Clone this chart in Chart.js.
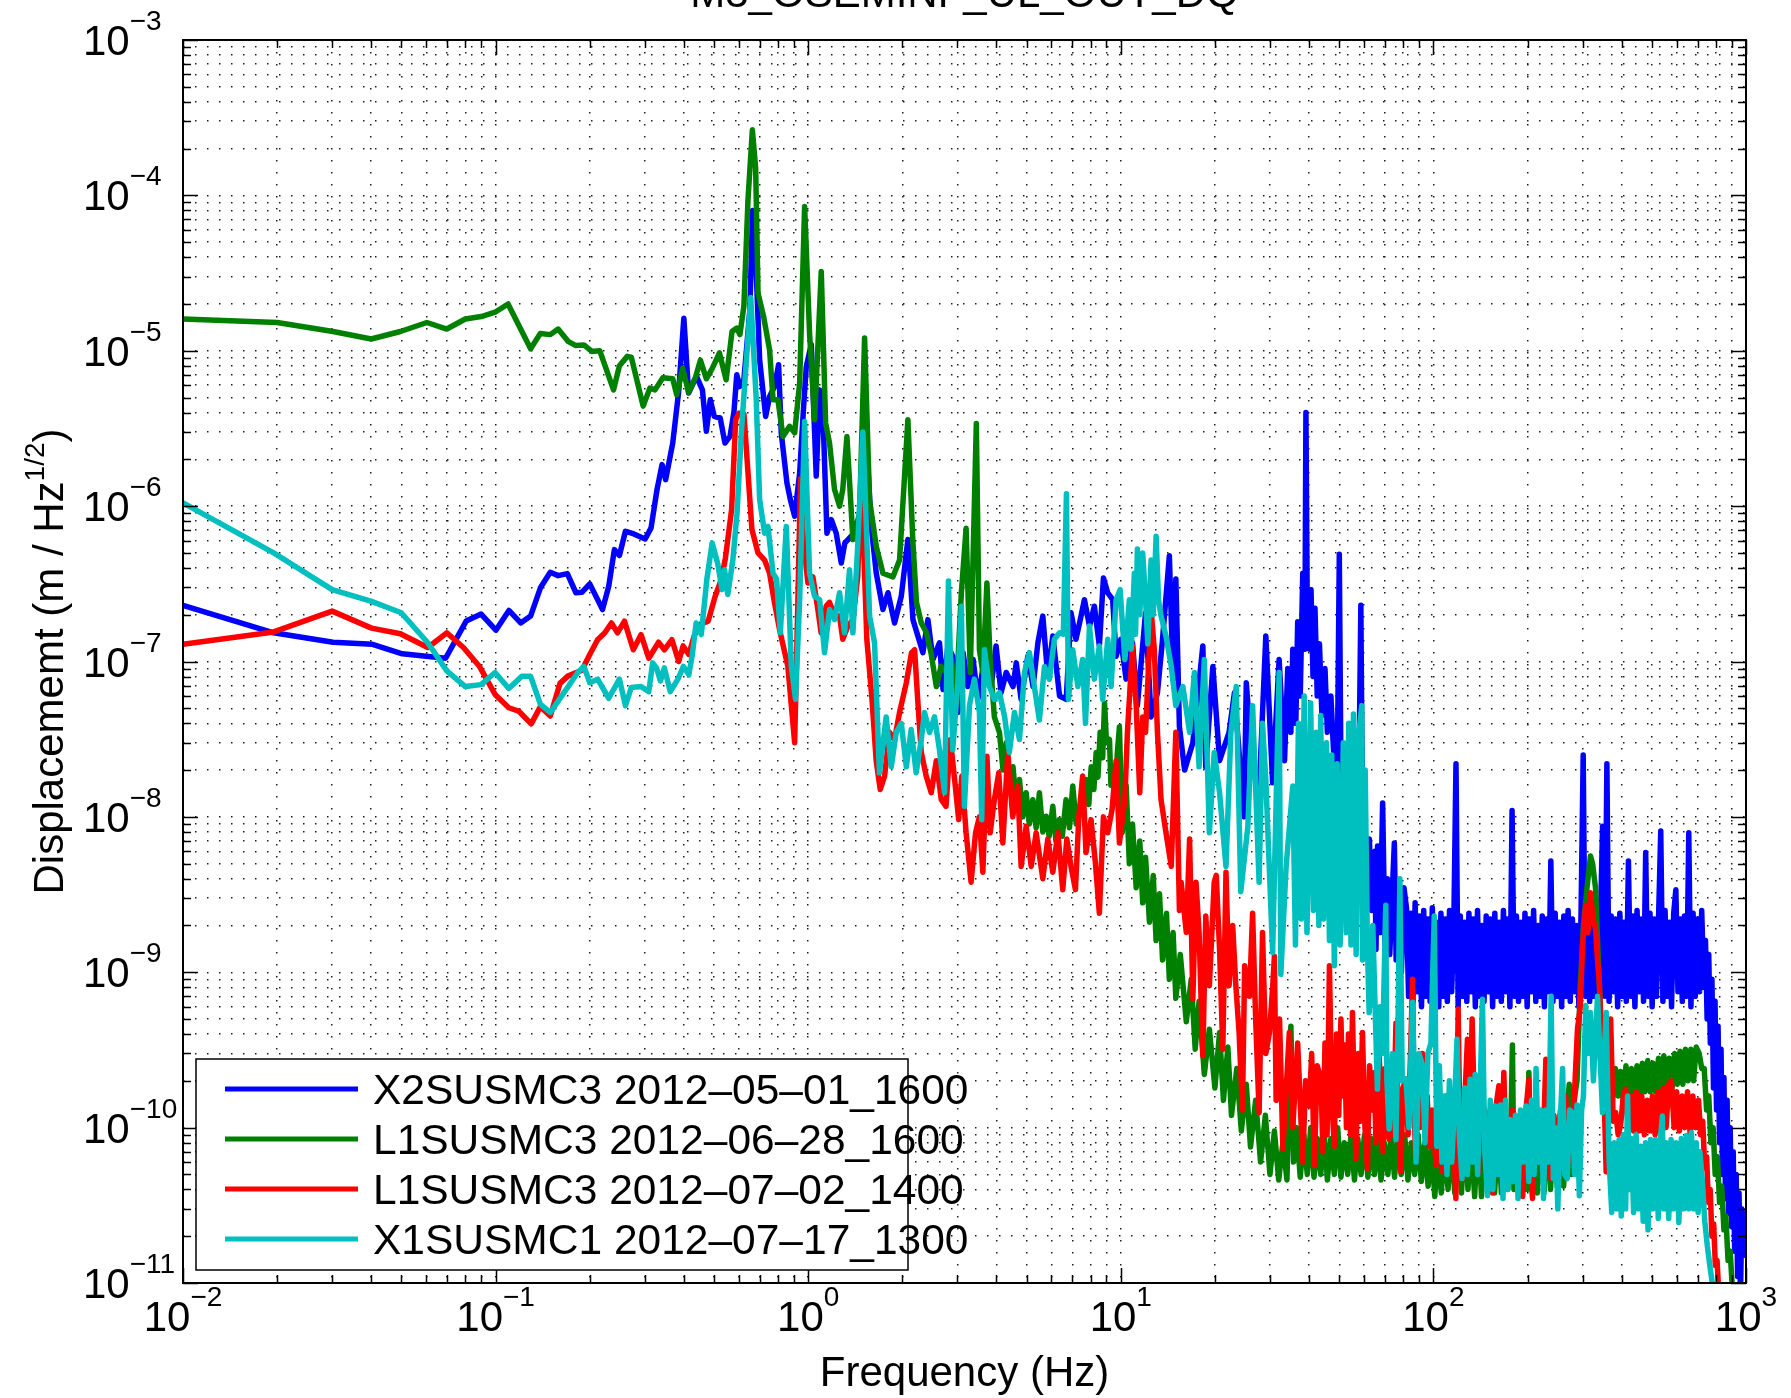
<!DOCTYPE html>
<html>
<head>
<meta charset="utf-8">
<title>M3_OSEMINF_UL_OUT_DQ</title>
<script src="https://cdn.jsdelivr.net/npm/chart.js@4.4.1/dist/chart.umd.min.js"></script>
<style>
  html, body { margin: 0; padding: 0; background: #fff; overflow: hidden; }
  canvas { display: block; }
</style>
</head>
<body>
<canvas id="psdChart" width="1791" height="1398"></canvas>
<script>
const FONT = "'Liberation Sans', Arial, Helvetica, sans-serif";

const chartTitle = 'M3_OSEMINF_UL_OUT_DQ';
const xTitle = 'Frequency (Hz)';
const yTitleMain = 'Displacememt (m / Hz';
const yTitleSup = '1/2';
const yTitleEnd = ')';

const seriesNames = [
    'X2SUSMC3 2012–05–01_1600',
    'L1SUSMC3 2012–06–28_1600',
    'L1SUSMC3 2012–07–02_1400',
    'X1SUSMC1 2012–07–17_1300'
];
const seriesColors = ['#0000ff', '#008000', '#ff0000', '#00bfbf'];

const xExponents = [-2, -1, 0, 1, 2, 3];
const yExponents = [-11, -10, -9, -8, -7, -6, -5, -4, -3];

// [frequency (Hz), displacement (m/rtHz)]
const x2susmc3 = [
    [0.01,2.3e-7],[0.0195,1.53e-7],[0.0302,1.33e-7],[0.0404,1.29e-7],[0.0503,1.12e-7],[0.0692,1.05e-7],
    [0.0805,1.82e-7],[0.0899,2.02e-7],[0.1002,1.59e-7],[0.1103,2.13e-7],[0.1203,1.77e-7],[0.1294,1.96e-7],
    [0.1391,2.98e-7],[0.1496,3.75e-7],[0.1585,3.57e-7],[0.1696,3.68e-7],[0.1807,2.77e-7],[0.1888,2.79e-7],
    [0.2001,3.16e-7],[0.2198,2.16e-7],[0.2301,3.05e-7],[0.2399,5.25e-7],[0.2489,4.81e-7],[0.2602,6.89e-7],
    [0.2757,6.65e-7],[0.3009,6.15e-7],[0.3143,7.24e-7],[0.3284,1.28e-6],[0.3409,1.85e-6],[0.3499,1.48e-6],
    [0.3687,2.55e-6],[0.3852,5.47e-6],[0.4001,1.62e-5],[0.4143,5.35e-6],[0.4391,6.84e-6],[0.4587,5.6e-6],
    [0.4722,3.03e-6],[0.486,4.84e-6],[0.5006,3.78e-6],[0.5229,3.69e-6],[0.5416,2.55e-6],[0.5623,2.81e-6],
    [0.579,4.07e-6],[0.5908,7.0e-6],[0.6047,5.9e-6],[0.6226,6.5e-6],[0.6504,1.8e-5],[0.664,8.0e-5],
    [0.679,4.0e-5],[0.6993,8.75e-6],[0.731,3.78e-6],[0.7525,5.08e-6],[0.781,5.9e-6],[0.804,8.13e-6],
    [0.82,2.95e-6],[0.855,1.41e-6],[0.877,1.1e-6],[0.905,8.6e-7],[0.939,1.63e-6],[0.967,4.38e-6],
    [0.986,7.9e-6],[1.023,1.1e-5],[1.061,1.56e-6],[1.088,5.6e-6],[1.12,2.95e-6],[1.148,6.7e-7],
    [1.185,8.2e-7],[1.229,6.7e-7],[1.276,4.3e-7],[1.31,5.8e-7],[1.373,6.4e-7],[1.425,7.1e-7],
    [1.467,5.5e-7],[1.515,4.8e-6],[1.552,1.8e-6],[1.591,7.4e-7],[1.651,3.7e-7],[1.734,2.16e-7],
    [1.8,2.77e-7],[1.889,1.77e-7],[1.985,2.63e-7],[2.084,6.1e-7],[2.163,1.86e-7],[2.328,1.14e-7],
    [2.415,1.86e-7],[2.506,1.03e-7],[2.63,1.32e-7],[2.7,6.6e-8],[2.8,1.26e-7],[2.9,1.08e-7],
    [3.01,4.7e-8],[3.13,1.14e-7],[3.24,6.9e-8],[3.37,1.03e-7],[3.49,5.7e-8],[3.66,1.03e-7],
    [3.85,6.9e-8],[3.99,1.26e-7],[4.14,6.3e-8],[4.3,8.5e-8],[4.52,6.9e-8],[4.63,9.8e-8],
    [4.8,5.7e-8],[5.04,1.08e-7],[5.24,6.9e-8],[5.43,1.32e-7],[5.63,1.96e-7],[5.84,8.0e-8],
    [6.06,1.46e-7],[6.37,6.0e-8],[6.69,5.7e-8],[6.93,2.06e-7],[7.19,1.39e-7],[7.46,1.96e-7],
    [7.65,2.5e-7],[7.94,1.69e-7],[8.23,2.27e-7],[8.54,1.26e-7],[8.8,3.45e-7],[9.08,2.77e-7],
    [9.42,2.5e-7],[9.66,1.08e-7],[10.0,1.39e-7],[10.4,7.7e-8],[10.9,1.32e-7],[11.3,5.2e-8],
    [12.0,2.06e-7],[12.5,4.4e-8],[13.1,6.3e-8],[13.6,1.39e-7],[14.3,4.8e-7],[14.7,7.7e-8],
    [15.0,3.4e-7],[15.4,3.8e-8],[16.0,2.0e-8],[17.0,3.0e-8],[18.3,1.26e-7],[18.7,2.1e-8],
    [19.7,9.3e-8],[20.7,2.3e-8],[22.2,3.5e-8],[23.1,6.3e-8],[24.8,1.0e-8],[25.2,7.3e-8],
    [26.4,2.1e-8],[27.7,1.43e-8],[29.1,1.46e-7],[30.6,1.66e-8],[32.1,1.03e-7],[33.4,2.3e-8],
    [34.2,9.0e-8],[35.0,3.5e-8],[35.5,1.2e-7],[36.3,4.0e-8],[36.8,1.8e-7],[37.5,6.0e-8],
    [38.2,3.7e-7],[38.8,1.2e-7],[39.1,4.0e-6],[39.5,2.0e-7],[40.1,1.2e-7],[40.6,2.9e-7],
    [41.2,8.0e-8],[41.8,2.2e-7],[42.5,6.0e-8],[43.2,1.3e-7],[44.0,4.5e-8],[45.0,9.0e-8],
    [45.8,3.5e-8],[47.0,6.0e-8],[48.0,2.5e-8],[49.0,5.9e-9],[50.0,4.9e-7],[50.6,2.0e-8],
    [51.2,2.85e-8],[52.0,8.0e-9],[53.0,2.7e-8],[54.5,6.0e-9],[56.5,3.0e-8],[57.5,8.0e-9],
    [58.6,2.3e-7],[59.5,4.0e-9],[60.1,1.06e-8],[61.0,3.0e-9],[62.4,7.2e-9],[63.5,2.5e-9],
    [65.0,6.0e-9],[65.5,1.4e-9],[66.3,6.5e-9],[67.5,1.8e-9],[68.8,1.23e-8],[70.0,1.5e-9],
    [71.3,4.0e-9],[72.5,1.3e-9],[75.0,6.8e-9],[76.0,1.2e-9],[77.8,3.3e-9],[79.0,1.0e-9],
    [80.5,3.5e-9],[82,2.6e-9],[83.3,7.0e-10],[84.6,2.4e-9],[86,6.5e-10],[87.4,2.8e-9],[88.8,7.5e-10],
    [90.2,2.3e-9],[91.6,6.0e-10],[93.1,2.5e-9],[94.6,7.0e-10],[96.1,2.2e-9],[97.6,6.5e-10],[99.2,2.6e-9],
    [100.8,7.5e-10],[102.4,2.1e-9],[104,6.0e-10],[105.7,2.4e-9],[107.4,7.0e-10],[109.1,2.2e-9],
    [110.8,6.5e-10],[112.6,2.5e-9],[114.4,7.5e-10],[116.2,2.0e-9],[118.1,2.2e-8],[120,6.0e-10],
    [121.9,2.3e-9],[123.9,7.0e-10],[125.9,2.1e-9],[127.9,6.5e-10],[129.9,2.4e-9],[132,7.5e-10],
    [134.1,2.2e-9],[136.2,6.0e-10],[138.4,2.5e-9],[140.6,7.0e-10],[142.9,2.0e-9],[145.2,6.5e-10],
    [147.5,2.3e-9],[149.9,7.5e-10],[152.3,2.2e-9],[154.7,6.0e-10],[157.2,2.4e-9],[159.7,7.0e-10],
    [162.3,2.1e-9],[164.9,6.5e-10],[167.5,2.5e-9],[170.2,7.5e-10],[172.9,2.2e-9],[175.7,6.0e-10],
    [178.5,1.1e-8],[181.4,7.0e-10],[184.3,2.3e-9],[187.2,6.5e-10],[190.2,2.1e-9],[193.2,7.0e-10],
    [196.3,2.4e-9],[199.5,6.0e-10],[202.7,2.2e-9],[205.9,7.5e-10],[209.2,2.5e-9],[212.6,6.5e-10],
    [216,2.0e-9],[219.4,7.0e-10],[222.9,2.3e-9],[226.5,6.0e-10],[230.1,2.2e-9],[233.8,7.5e-10],
    [237.5,5.2e-9],[241.3,6.5e-10],[245.2,2.4e-9],[249.1,7.0e-10],[253.1,2.1e-9],[257.2,6.0e-10],
    [261.3,2.3e-9],[265.5,7.0e-10],[269.7,2.5e-9],[274,6.5e-10],[278.4,2.2e-9],[282.9,7.5e-10],
    [287.4,2.0e-9],[292,6.0e-10],[296.7,2.4e-9],[301.4,2.5e-8],[306.2,7.0e-10],[311.1,2.3e-9],
    [316.1,6.5e-10],[321.2,2.2e-9],[326.3,7.0e-10],[331.5,2.5e-9],[336.8,6.0e-10],[342.2,2.1e-9],
    [347.7,8.7e-9],[353.3,7.0e-10],[358.9,2.2e-8],[364.7,6.5e-10],[370.5,2.3e-9],[376.4,7.5e-10],
    [382.4,2.2e-9],[388.5,6.0e-10],[394.8,2.4e-9],[401.1,7.0e-10],[407.5,2.1e-9],[414,6.5e-10],
    [420.6,5.2e-9],[427.4,7.0e-10],[434.2,2.3e-9],[441.2,6.0e-10],[448.2,2.5e-9],[455.4,7.5e-10],
    [462.7,2.2e-9],[470.1,6.5e-10],[477.6,5.9e-9],[485.2,7.0e-10],[493,2.4e-9],[500.9,6.0e-10],
    [508.9,2.2e-9],[517,7.0e-10],[525.3,2.3e-9],[533.7,8.1e-9],[542.2,6.5e-10],[550.9,2.5e-9],
    [559.7,7.0e-10],[568.7,2.1e-9],[577.8,6.0e-10],[587,2.4e-9],[596.4,3.4e-9],[605.9,7.5e-10],
    [615.6,2.2e-9],[625.5,6.5e-10],[635.5,2.3e-9],[645.7,7.0e-10],[656,7.9e-9],[666.5,6.0e-10],
    [677.2,2.4e-9],[688,7.0e-10],[699,2.2e-9],[710.2,7.5e-10],[721.6,2.5e-9],[733,8.0e-10],
    [742,1.6e-9],[751,5.0e-10],[760,1.3e-9],[769,3.5e-10],[778,9.0e-10],[787,1.8e-10],
    [796,6.5e-10],[805,1.3e-10],[814,4.5e-10],[823,8.0e-11],[832,3.2e-10],[841,5.0e-11],
    [850,2.1e-10],[860,3.5e-11],[870,1.5e-10],[880,2.8e-11],[890,1.0e-10],[900,2.3e-11],
    [910,7.0e-11],[920,1.6e-11],[930,5.0e-11],[940,1.1e-11],[950,3.8e-11],[960,8.0e-12],
    [970,3.0e-11],[985,2.2e-11],[1000,1.5e-11]
];

const l1susmc3Jun = [
    [0.01,1.6e-5],[0.02,1.52e-5],[0.0302,1.33e-5],[0.04,1.19e-5],[0.0496,1.33e-5],[0.0603,1.52e-5],
    [0.0698,1.38e-5],[0.08,1.6e-5],[0.09,1.66e-5],[0.0996,1.77e-5],[0.1096,2.0e-5],[0.1294,1.03e-5],
    [0.139,1.29e-5],[0.1496,1.27e-5],[0.1585,1.38e-5],[0.1705,1.15e-5],[0.1807,1.08e-5],[0.1916,1.09e-5],
    [0.2032,9.9e-6],[0.2154,1.0e-5],[0.2384,5.6e-6],[0.2489,8.0e-6],[0.2638,9.2e-6],[0.2717,9.1e-6],
    [0.2965,4.4e-6],[0.3115,5.75e-6],[0.3236,5.6e-6],[0.3428,6.7e-6],[0.3687,6.6e-6],[0.3797,5.2e-6],
    [0.3966,7.7e-6],[0.4143,5.4e-6],[0.4365,6.8e-6],[0.452,8.7e-6],[0.4722,6.6e-6],[0.4934,7.7e-6],
    [0.52,9.7e-6],[0.5463,6.5e-6],[0.5706,1.33e-5],[0.5909,1.4e-5],[0.6047,1.27e-5],[0.6226,1.93e-5],
    [0.6418,9.4e-5],[0.6628,2.64e-4],[0.679,1.5e-4],[0.691,2.35e-5],[0.72,1.66e-5],[0.7525,1.01e-5],
    [0.772,4.84e-6],[0.8,4.84e-6],[0.8304,2.81e-6],[0.872,3.26e-6],[0.905,2.96e-6],[0.939,6.2e-6],
    [0.974,8.47e-5],[1.01,1.3e-5],[1.048,3.6e-6],[1.101,3.24e-5],[1.137,3.43e-6],[1.17,2.55e-6],
    [1.214,1.28e-6],[1.26,1.0e-6],[1.29,1.28e-6],[1.33,2.81e-6],[1.39,6.1e-7],[1.46,9.0e-7],
    [1.515,1.21e-5],[1.571,1.1e-6],[1.651,5.5e-7],[1.734,3.7e-7],[1.866,3.5e-7],[1.96,4.5e-7],
    [2.084,3.6e-6],[2.16,6.1e-7],[2.22,2.4e-7],[2.3,1.77e-7],[2.39,1.53e-7],[2.47,1.14e-7],
    [2.57,6.9e-8],[2.66,9.3e-8],[2.76,8.5e-8],[2.87,1.03e-7],[2.97,5.7e-8],[3.09,2.77e-7],
    [3.2,7.2e-7],[3.3,8.5e-8],[3.45,3.4e-6],[3.53,1.19e-7],[3.62,8.5e-8],[3.73,3.2e-7],
    [3.82,1.03e-7],[3.94,4.4e-8],[4.09,3.5e-8],[4.2,2.0e-8],[4.3,3.0e-8],[4.4,1.6e-8],[4.52,2.1e-8],
    [4.63,1.2e-8],[4.74,1.74e-8],[4.86,1.0e-8],[4.98,1.43e-8],[5.1,9.0e-9],[5.23,1.29e-8],[5.36,8.5e-9],
    [5.49,1.43e-8],[5.63,8.0e-9],[5.77,1.01e-8],[5.9,7.5e-9],[6.06,1.17e-8],[6.2,7.0e-9],[6.36,9.6e-9],
    [6.5,7.5e-9],[6.68,1.29e-8],[6.85,8.5e-9],[7.02,1.58e-8],[7.2,9.0e-9],[7.37,1.17e-8],[7.55,1.05e-8],
    [7.74,1.74e-8],[7.9,1.2e-8],[8.04,2.1e-8],[8.2,1.5e-8],[8.34,2.6e-8],[8.45,1.8e-8],[8.59,3.5e-8],
    [8.75,2.4e-8],[8.87,5.4e-8],[9.0,3.0e-8],[9.2,3.15e-8],[9.3,1.6e-8],[9.42,2.1e-8],[9.6,1.3e-8],
    [9.75,2.6e-8],[9.9,3.8e-8],[10.1,7.9e-9],[10.4,1.6e-8],[10.65,5.0e-9],[10.9,9.0e-9],[11.2,3.5e-9],
    [11.5,7.0e-9],[11.75,2.8e-9],[12.0,5.5e-9],[12.35,2.1e-9],[12.7,4.2e-9],[12.97,1.6e-9],[13.3,3.2e-9],
    [13.6,1.2e-9],[14.0,2.4e-9],[14.3,9.0e-10],[14.7,1.8e-9],[15.0,6.8e-10],[15.5,1.3e-9],[16.2,4.8e-10],
    [16.8,9.0e-10],[17.3,3.2e-10],[17.8,6.5e-10],[18.5,2.2e-10],[19.2,4.3e-10],[20.0,1.8e-10],[20.7,4.1e-10],
    [21.3,1.5e-10],[22.0,3.3e-10],[22.6,1.2e-10],[23.5,2.4e-10],[24.3,9.5e-11],[25.2,1.9e-10],[26.0,7.5e-11],
    [27.0,1.5e-10],[28.0,6.0e-11],[29.0,1.2e-10],[30.0,5.0e-11],[31.0,9.5e-11],[32.0,4.6e-11],[33.0,8.0e-11],
    [34.0,4.6e-11],[35.0,4.5e-10],[35.7,6.0e-11],[36.5,1.0e-10],[37.5,4.8e-11],[38.5,9.0e-11],[39.5,5.0e-11],
    [40.5,1.0e-10],[41.5,4.8e-11],[42.5,8.5e-11],[43.6,5.0e-11],[44.7,9.5e-11],[45.8,4.6e-11],[47.0,8.5e-11],
    [48.2,5.0e-11],[49.4,1.0e-10],[50.6,4.8e-11],[51.9,8.0e-11],[53.2,5.0e-11],[54.5,9.0e-11],[55.9,4.6e-11],
    [57.3,8.5e-11],[58.7,5.0e-11],[60.2,9.0e-11],[61.7,4.8e-11],[63.2,8.5e-11],[64.8,5.0e-11],[66.4,9.0e-11],
    [68.0,4.6e-11],[69.7,8.0e-11],[71.5,5.0e-11],[73.3,9.0e-11],[75.1,4.8e-11],[77.0,8.5e-11],[78.9,5.0e-11],
    [80.9,9.0e-11],[82.9,4.6e-11],[85.0,8.0e-11],[87.1,5.0e-11],[89.3,9.0e-11],[91.5,4.5e-11],[93.8,8.0e-11],
    [96.2,4.2e-11],[98.6,8.0e-11],[101,3.6e-11],[103.5,7.0e-11],[106,3.8e-11],[108.7,8.0e-11],[111.4,4.0e-11],
    [114,9.0e-11],[117,3.8e-11],[120,9.5e-11],[123,3.8e-11],[126,1.0e-10],[129,4.0e-11],[132,9.0e-11],
    [135.5,3.6e-11],[139,1.0e-10],[142.5,3.6e-11],[146,1.1e-10],[149.5,4.0e-11],[153,1.0e-10],[157,3.8e-11],
    [161,1.0e-10],[165,3.8e-11],[169,1.1e-10],[173,4.0e-11],[177,1.1e-10],[179,3.4e-10],[181,4.0e-11],
    [185.5,1.0e-10],[190,3.7e-11],[195,1.0e-10],[199,4.0e-11],[202,2.26e-10],[205,4.0e-11],[210,1.1e-10],
    [215,3.8e-11],[220,1.1e-10],[226,3.8e-11],[231,1.2e-10],[237,4.0e-11],[243,1.1e-10],[249,4.2e-11],
    [255,1.2e-10],[261,4.2e-11],[267,1.2e-10],[272,1.9e-10],[276,5.0e-11],[282,1.5e-10],[288,2.0e-10],
    [295,8.0e-10],[302,2.0e-9],[310,3.5e-9],[318,5.6e-9],[323,5.0e-9],[330,3.5e-9],[337,1.2e-9],
    [345,4.0e-10],[353,2.0e-10],[360,1.6e-10],[367,2.3e-10],[374,1.5e-10],[382,2.4e-10],[390,1.6e-10],
    [397,2.3e-10],[405,1.5e-10],[413,2.5e-10],[422,1.6e-10],[430,2.4e-10],[439,1.6e-10],[448,2.5e-10],
    [457,1.6e-10],[466,2.6e-10],[475,1.7e-10],[485,2.7e-10],[494,1.7e-10],[504,2.6e-10],[514,1.7e-10],
    [525,2.8e-10],[535,1.8e-10],[546,2.9e-10],[557,1.8e-10],[568,2.8e-10],[580,1.8e-10],[591,3.0e-10],
    [603,1.9e-10],[615,3.1e-10],[628,1.9e-10],[640,3.2e-10],[653,2.0e-10],[666,3.2e-10],[680,2.0e-10],
    [693,3.3e-10],[708,3.0e-10],[722,2.4e-10],[735,2.4e-10],[748,1.3e-10],[760,1.6e-10],[772,8.0e-11],
    [785,1.0e-10],[797,5.0e-11],[810,6.5e-11],[823,3.3e-11],[836,4.2e-11],[850,2.2e-11],[862,2.7e-11],
    [876,1.4e-11],[890,1.6e-11],[905,9.0e-12]
];

const l1susmc3Jul = [
    [0.01,1.29e-7],[0.0195,1.55e-7],[0.03,2.11e-7],[0.0401,1.64e-7],[0.0496,1.51e-7],[0.0607,1.23e-7],
    [0.0698,1.53e-7],[0.0789,1.23e-7],[0.0887,9.33e-8],[0.0996,6.14e-8],[0.1102,5.04e-8],[0.1185,4.8e-8],
    [0.13,3.97e-8],[0.1391,5.12e-8],[0.1496,4.46e-8],[0.1607,7.23e-8],[0.1702,8.05e-8],[0.1888,8.79e-8],
    [0.2001,1.11e-7],[0.212,1.38e-7],[0.2236,1.53e-7],[0.2348,1.77e-7],[0.2454,1.53e-7],[0.2584,1.82e-7],
    [0.2757,1.19e-7],[0.292,1.49e-7],[0.309,1.05e-7],[0.3322,1.33e-7],[0.3466,1.19e-7],[0.3665,1.38e-7],
    [0.3852,1.0e-7],[0.398,1.26e-7],[0.4151,1.11e-7],[0.4317,1.46e-7],[0.4492,1.73e-7],[0.4788,1.82e-7],
    [0.5039,2.63e-7],[0.5274,3.37e-7],[0.5436,4.64e-7],[0.5688,9.5e-7],[0.5862,3.6e-6],[0.6009,3.97e-6],
    [0.623,3.9e-6],[0.6605,7.1e-7],[0.6908,5.0e-7],[0.7253,4.5e-7],[0.7525,3.7e-7],[0.78,2.4e-7],
    [0.81,1.6e-7],[0.861,9.3e-8],[0.905,3.0e-8],[0.927,2.5e-7],[0.945,1.5e-6],[0.965,6.0e-7],
    [0.998,3.2e-7],[1.035,3.5e-7],[1.074,2.16e-7],[1.1,1.53e-7],[1.142,2.27e-7],[1.17,2.4e-7],
    [1.214,2.0e-7],[1.26,1.96e-7],[1.29,1.39e-7],[1.34,1.69e-7],[1.39,1.86e-7],[1.44,3.5e-7],
    [1.478,1.6e-6],[1.54,1.39e-7],[1.6,5.7e-8],[1.65,2.3e-8],[1.7,1.5e-8],[1.755,1.83e-8],
    [1.82,3.5e-8],[1.889,3.15e-8],[1.96,4.7e-8],[2.06,7.3e-8],[2.14,1.14e-7],[2.19,1.19e-7],
    [2.24,5.7e-8],[2.3,2.6e-8],[2.385,1.83e-8],[2.475,1.43e-8],[2.57,2.3e-8],[2.665,1.29e-8],
    [2.76,1.17e-8],[2.85,3.15e-8],[2.94,1.74e-8],[3.03,9.6e-9],[3.1,1.83e-8],[3.2,7.9e-9],
    [3.32,3.8e-9],[3.43,7.9e-9],[3.53,1.0e-8],[3.62,4.4e-9],[3.73,2.46e-8],[3.82,7.9e-9],
    [3.94,1.29e-8],[4.07,1.92e-8],[4.195,6.8e-9],[4.35,2.6e-8],[4.51,1.0e-8],[4.68,1.58e-8],
    [4.8,4.8e-9],[4.98,8.7e-9],[5.17,4.8e-9],[5.36,7.9e-9],[5.63,4.0e-9],[5.84,7.2e-9],
    [6.06,4.4e-9],[6.29,7.9e-9],[6.52,3.4e-9],[6.72,7.2e-9],[6.93,4.8e-9],[7.16,3.4e-9],
    [7.34,1.0e-8],[7.55,1.83e-8],[7.74,5.9e-9],[8.03,9.6e-9],[8.29,5.1e-9],[8.54,2.4e-9],
    [8.8,1.0e-8],[9.08,7.9e-9],[9.38,1.12e-8],[9.66,2.3e-8],[9.9,6.8e-9],[10.3,1.29e-8],
    [10.5,3.5e-8],[10.9,1.26e-7],[11.2,5.2e-8],[11.5,1.43e-8],[11.75,4.4e-8],[12.0,3.5e-8],
    [12.5,2.16e-7],[12.8,1.19e-7],[13.1,3.5e-8],[13.45,1.29e-8],[13.95,7.9e-9],[14.5,4.8e-9],
    [15.0,3.5e-8],[15.4,2.5e-9],[15.6,3.8e-9],[16.2,1.8e-9],[16.6,7.2e-9],[17.0,6.7e-10],
    [17.4,3.8e-9],[17.8,1.8e-9],[18.3,2.9e-10],[18.7,2.3e-9],[19.2,8.2e-10],[19.9,3.8e-9],
    [20.2,4.2e-9],[20.7,1.4e-9],[21.2,3.2e-10],[21.7,4.4e-9],[22.2,8.2e-10],[22.8,2.0e-9],
    [23.3,8.6e-10],[23.9,4.1e-10],[24.5,1.3e-10],[24.9,1.1e-9],[25.8,7.0e-10],[26.4,2.4e-9],
    [27.0,5.0e-10],[27.7,1.25e-10],[28.4,1.8e-9],[29.1,3.0e-10],[29.9,4.1e-10],[30.6,8.0e-10],
    [31.0,1.27e-9],[31.4,1.5e-10],[32.2,5.0e-10],[33.0,7.3e-11],[34.6,4.1e-10],[35.5,1.0e-10],
    [36.8,3.5e-10],[38.2,6.0e-11],[39.0,2.0e-10],[40.1,1.38e-10],[40.8,3.0e-10],[41.6,5.7e-11],
    [42.5,2.5e-10],[43.7,2.05e-10],[44.3,7.0e-11],[45.0,3.5e-10],[45.7,9.0e-11],[46.5,1.1e-9],
    [47.3,1.5e-10],[48.2,7.6e-11],[49.0,4.0e-10],[49.8,1.2e-10],[50.6,5.0e-10],[51.3,1.6e-10],
    [52.0,3.4e-10],[52.7,1.0e-10],[53.5,4.0e-10],[54.3,9.0e-11],[55.1,5.5e-10],[55.8,1.5e-10],
    [56.5,6.3e-11],[57.5,3.0e-10],[58.4,1.1e-10],[59.3,4.1e-10],[60.4,1.0e-10],[61.5,5.4e-11],
    [62.5,2.5e-10],[63.6,1.3e-10],[64.7,2.26e-10],[65.5,8.0e-11],[66.2,1.1e-10],[67.0,3.0e-10],
    [67.9,1.6e-10],[69.0,7.0e-11],[70.0,2.4e-10],[71.0,1.0e-10],[72.2,8.4e-11],[73.3,2.0e-10],
    [74.5,9.0e-11],[75.9,4.7e-10],[77.2,1.2e-10],[78.7,5.2e-11],[80.0,1.8e-10],[81.7,2.05e-10],
    [83.0,9.0e-11],[84.5,3.0e-10],[85.8,9.0e-10],[86.8,1.2e-10],[87.9,6.0e-11],[89.0,1.8e-10],
    [90.5,1.0e-10],[92.3,3.0e-10],[94.0,9.0e-11],[95.5,1.6e-10],[97.0,7.6e-11],[99.0,1.3e-10],
    [102,5.7e-11],[105,1.3e-10],[107,5.2e-11],[110,1.6e-10],[112,8.4e-11],[115,1.4e-10],
    [118,3.5e-11],[120,5.8e-10],[122,6.0e-11],[124,4.7e-11],[126,1.5e-10],[128.5,3.7e-10],
    [131,1.0e-10],[133,5.0e-10],[136,8.0e-11],[140,5.2e-11],[143,1.4e-10],[147,1.25e-10],
    [150,5.0e-11],[154.5,3.8e-11],[158,1.3e-10],[162,1.86e-10],[165,7.0e-11],[168,2.26e-10],
    [171,6.0e-11],[175,4.7e-11],[179,1.3e-10],[183.5,1.13e-10],[188,5.0e-11],[193,3.6e-11],
    [197,1.2e-10],[202,2.05e-10],[205,5.0e-11],[207.5,3.5e-11],[212,1.1e-10],[218,1.25e-10],
    [223,5.0e-11],[229,2.75e-10],[233,7.0e-11],[238,4.7e-11],[243,1.2e-10],[249,7.6e-11],
    [255,1.3e-10],[260,6.0e-11],[265,1.6e-10],[270,6.0e-11],[275,7.6e-11],[282,1.5e-10],
    [289,4.3e-10],[295,6.0e-10],[300,1.48e-9],[307,2.7e-9],[312,1.8e-9],[318,3.25e-9],
    [324,2.2e-9],[330,1.9e-9],[335,1.2e-9],[339,9.0e-10],[343,5.0e-10],[347,2.05e-10],
    [352,1.5e-10],[357,5.2e-11],[363,1.6e-10],[369,5.0e-10],[376,1.1e-10],[383,1.25e-10],
    [390,9.0e-11],[397,1.03e-10],[405,1.6e-10],[412,1.77e-10],[420,1.0e-10],[428,1.6e-10],
    [437,9.5e-11],[446,1.7e-10],[455,9.5e-11],[464,1.6e-10],[473,9.0e-11],[483,1.5e-10],
    [492,9.5e-11],[502,1.6e-10],[512,9.0e-11],[523,1.7e-10],[533,9.5e-11],[544,1.8e-10],
    [555,1.0e-10],[566,1.9e-10],[577,2.0e-10],[589,1.0e-10],[600,1.7e-10],[612,9.5e-11],
    [625,1.6e-10],[637,1.0e-10],[650,1.7e-10],[663,9.0e-11],[676,1.6e-10],[690,1.0e-10],
    [705,1.5e-10],[716,9.0e-11],[727,1.1e-10],[738,5.5e-11],[748,6.5e-11],[758,3.3e-11],
    [768,4.0e-11],[778,2.0e-11],[788,2.4e-11],[798,1.3e-11],[808,1.4e-11],[820,8.0e-12]
];

const x1susmc1 = [
    [0.01,1.05e-6],[0.0195,5.0e-7],[0.03,2.9e-7],[0.0401,2.44e-7],[0.0499,2.06e-7],[0.0607,1.32e-7],
    [0.0698,8.7e-8],[0.08,6.9e-8],[0.0899,7.1e-8],[0.0996,8.5e-8],[0.1102,6.7e-8],[0.1213,8.05e-8],
    [0.1294,8.05e-8],[0.1391,5.3e-8],[0.1496,4.7e-8],[0.1655,6.3e-8],[0.1832,8.5e-8],[0.1916,9.3e-8],
    [0.2001,7.3e-8],[0.212,7.7e-8],[0.2301,5.8e-8],[0.2489,7.7e-8],[0.2602,5.2e-8],[0.2717,6.8e-8],
    [0.292,6.9e-8],[0.309,6.4e-8],[0.318,9.8e-8],[0.3272,9.1e-8],[0.3367,7.5e-8],[0.3466,9.1e-8],
    [0.362,6.4e-8],[0.383,7.7e-8],[0.399,9.3e-8],[0.4151,8.2e-8],[0.426,1.11e-7],[0.438,1.77e-7],
    [0.455,1.49e-7],[0.4739,3.37e-7],[0.493,5.8e-7],[0.513,4.3e-7],[0.53,2.9e-7],[0.54,3.9e-7],
    [0.553,2.7e-7],[0.574,4.5e-7],[0.592,9.0e-7],[0.612,3.1e-6],[0.655,2.2e-5],[0.682,4.84e-6],
    [0.6993,1.1e-6],[0.7253,6.7e-7],[0.7436,7.4e-7],[0.7717,3.7e-7],[0.792,3.4e-7],[0.8145,1.53e-7],
    [0.851,7.4e-7],[0.883,9.3e-8],[0.911,5.7e-8],[0.939,2.5e-7],[0.974,3.5e-6],[1.01,3.7e-7],
    [1.048,2.63e-7],[1.088,2.5e-7],[1.128,1.14e-7],[1.17,2.16e-7],[1.214,1.86e-7],[1.26,2.77e-7],
    [1.307,1.53e-7],[1.356,3.9e-7],[1.39,1.53e-7],[1.44,5.5e-7],[1.496,3.0e-6],[1.572,1.96e-7],
    [1.63,1.32e-7],[1.69,1.92e-8],[1.776,4.4e-8],[1.844,2.1e-8],[1.912,3.5e-8],[1.985,4.0e-8],
    [2.06,2.1e-8],[2.135,3.65e-8],[2.215,1.92e-8],[2.3,3.15e-8],[2.356,4.7e-8],[2.444,3.5e-8],
    [2.536,4.4e-8],[2.63,2.7e-8],[2.73,1.43e-8],[2.81,3.3e-7],[2.9,2.7e-8],[3.01,7.3e-8],
    [3.09,2.27e-7],[3.16,1.17e-8],[3.28,5.2e-8],[3.4,7.7e-8],[3.53,4.7e-8],[3.59,9.6e-9],
    [3.66,1.19e-7],[3.8,6.9e-8],[3.94,5.7e-8],[4.09,6.3e-8],[4.25,4.4e-8],[4.4,2.6e-8],
    [4.57,4.7e-8],[4.74,3.15e-8],[4.92,8.5e-8],[5.1,1.14e-7],[5.29,6.9e-8],[5.49,4.2e-8],
    [5.7,9.3e-8],[5.91,7.7e-8],[6.13,1.39e-7],[6.37,1.53e-7],[6.55,1.5e-7],[6.7,1.2e-6],
    [6.8,5.7e-8],[7.02,1.19e-7],[7.29,6.9e-8],[7.55,1.03e-7],[7.71,4.0e-8],[7.94,1.69e-7],
    [8.23,7.7e-8],[8.54,1.26e-7],[8.75,5.7e-8],[9.08,1.39e-7],[9.31,6.9e-8],[9.66,2.5e-7],
    [9.95,2.9e-7],[10.3,1.03e-7],[10.65,2.5e-7],[10.8,1.2e-7],[11.05,3.7e-7],[11.15,1.5e-7],
    [11.3,5.3e-7],[11.5,2.0e-7],[11.75,5.0e-7],[12.0,2.5e-7],[12.2,1.3e-7],[12.5,4.5e-7],
    [12.7,2.0e-7],[12.97,6.4e-7],[13.2,2.5e-7],[13.45,1.96e-7],[13.95,1.46e-7],[14.5,9.3e-8],
    [15.0,5.2e-8],[15.8,6.9e-8],[16.6,3.5e-8],[17.2,8.5e-8],[17.8,2.1e-8],[18.5,1.03e-7],
    [19.2,7.9e-9],[19.9,2.6e-8],[20.7,1.43e-8],[21.7,4.8e-9],[22.5,3.5e-8],[23.4,6.9e-8],
    [24.2,3.3e-9],[25.5,8.7e-9],[26.4,5.2e-8],[27.7,3.8e-9],[28.4,4.0e-8],[29.1,1.74e-8],
    [30.6,1.34e-9],[32.1,8.5e-8],[32.5,9.7e-10],[33.8,4.8e-9],[35.5,1.58e-8],[36.2,1.5e-9],
    [37.0,4.0e-8],[37.8,2.2e-9],[38.6,6.0e-8],[39.4,1.8e-9],[40.5,5.4e-8],[41.3,2.5e-9],
    [42.2,3.5e-8],[43.0,2.0e-9],[43.6,4.5e-8],[44.5,2.2e-9],[45.5,3.0e-8],[46.5,1.6e-9],
    [47.3,2.5e-8],[48.2,1.1e-9],[49.2,2.2e-8],[50.3,1.5e-9],[51.5,3.0e-8],[52.6,1.8e-9],
    [53.6,4.0e-8],[54.5,1.5e-9],[55.5,4.6e-8],[56.6,1.3e-9],[57.8,3.5e-8],[59.0,5.2e-8],
    [59.3,1.2e-9],[60.5,2.0e-8],[61.5,1.5e-9],[62.3,5.5e-10],[64.0,2.0e-9],[66.2,1.77e-10],
    [67.5,6.0e-10],[68.7,3.0e-10],[70.4,2.7e-9],[71.0,2.0e-10],[72.2,9.8e-11],[74.0,3.0e-10],
    [75.9,8.4e-11],[77.0,4.0e-10],[78.1,4.0e-9],[79.5,2.0e-10],[81.7,2.05e-10],[83.5,1.0e-10],
    [85.8,6.4e-10],[88.0,6.0e-11],[90.0,3.0e-10],[92.3,2.5e-10],[94.0,8.0e-11],[96.0,3.0e-10],
    [98.2,3.5e-10],[100.6,2.3e-9],[102.5,7.6e-11],[104.5,2.5e-10],[106.5,6.0e-11],[108.5,1.6e-10],
    [110.5,5.0e-11],[112.5,2.0e-10],[114.5,6.0e-11],[117,1.5e-10],[119,3.7e-10],[121,9.0e-11],
    [123.5,4.7e-11],[126,1.8e-10],[128.5,5.0e-11],[131,2.05e-10],[133.5,6.0e-11],[136,2.2e-10],
    [138.5,5.0e-11],[141,1.6e-10],[143.5,6.7e-10],[146,7.0e-11],[149,3.65e-11],[152,1.5e-10],
    [155,4.0e-11],[158,1.38e-10],[161,5.0e-11],[164,1.4e-10],[167,3.5e-11],[170,1.5e-10],
    [173,4.0e-11],[176,1.13e-10],[179.5,4.5e-11],[183,1.2e-10],[186.5,3.5e-11],[190,1.3e-10],
    [194,6.0e-11],[198,1.38e-10],[202,4.5e-11],[206,1.5e-10],[210,5.0e-11],[213,2.4e-10],
    [217,6.0e-11],[221,1.3e-10],[225,3.5e-11],[229,1.3e-10],[233,6.0e-11],[238,7.0e-10],
    [242,4.7e-11],[246,1.0e-10],[250,3.0e-11],[255,1.2e-10],[259,2.4e-10],[263,5.0e-11],
    [268,4.7e-11],[273,1.3e-10],[278,1.25e-10],[283,5.0e-11],[288,1.4e-10],[293,3.65e-11],
    [298,1.3e-10],[302,1.6e-10],[307,6.1e-10],[312,3.0e-10],[318,5.5e-10],[325,2.0e-10],
    [335,7.0e-10],[341,3.0e-10],[347.5,1.25e-10],[352,3.0e-10],[357,5.5e-10],[365,6.0e-11],
    [372,2.85e-11],[379,8.0e-11],[386,3.0e-11],[393,8.4e-11],[399,2.7e-11],[405,9.0e-11],
    [412,3.0e-11],[418,1.6e-10],[423,4.0e-11],[430,8.5e-11],[437,2.85e-11],[445,9.0e-11],
    [453,3.0e-11],[461,7.6e-11],[469,2.5e-11],[477,8.0e-11],[486,2.2e-11],[495,8.4e-11],
    [504,3.0e-11],[514,8.4e-11],[524,2.6e-11],[534,9.0e-11],[540,1.19e-10],[546,3.0e-11],
    [556,8.0e-11],[566,2.6e-11],[576,8.4e-11],[587,3.0e-11],[598,8.0e-11],[610,2.45e-11],
    [621,8.5e-11],[633,3.0e-11],[645,8.9e-11],[657,3.0e-11],[669,9.3e-11],[681,3.0e-11],
    [693,8.0e-11],[703,2.85e-11],[712,7.0e-11],[724,4.7e-11],[738,2.5e-11],[752,1.74e-11],
    [766,1.3e-11],[780,1.0e-11],[790,7.0e-12]
];

const seriesData = [x2susmc3, l1susmc3Jun, l1susmc3Jul, x1susmc1];

function logTicks(exps) {
    const out = [];
    for (let i = 0; i < exps.length - 1; i++) {
        for (let m = 1; m < 10; m++) {
            out.push(Number((m * Math.pow(10, exps[i])).toPrecision(3)));
        }
    }
    out.push(Math.pow(10, exps[exps.length - 1]));
    return out;
}

function isDecade(v) {
    const l = Math.log10(v);
    return Math.abs(l - Math.round(l)) < 1e-6;
}

function expText(e) {
    return e < 0 ? '\u2212' + Math.abs(e) : String(e);
}

// "10" with a raised exponent, MATLAB style
function drawPower(ctx, e, left, baseline) {
    ctx.textAlign = 'left';
    ctx.textBaseline = 'alphabetic';
    ctx.font = '42px ' + FONT;
    ctx.fillText('10', left, baseline);
    const w = ctx.measureText('10').width;
    ctx.font = '28px ' + FONT;
    ctx.fillText(expText(e), left + w, baseline - 25);
}

function powerWidth(ctx, e) {
    ctx.font = '42px ' + FONT;
    const a = ctx.measureText('10').width;
    ctx.font = '28px ' + FONT;
    return a + ctx.measureText(expText(e)).width;
}

const matlabAxes = {
    id: 'matlabAxes',
    afterDatasetsDraw(chart) {
        const { ctx, chartArea: a, scales: { x, y } } = chart;
        ctx.save();
        ctx.strokeStyle = '#000';
        ctx.lineWidth = 1.5;
        ctx.beginPath();
        x.ticks.forEach(t => {
            const px = Math.round(x.getPixelForValue(t.value)) + 0.5;
            const len = isDecade(t.value) ? 15 : 8;
            ctx.moveTo(px, a.bottom); ctx.lineTo(px, a.bottom - len);
            ctx.moveTo(px, a.top); ctx.lineTo(px, a.top + len);
        });
        y.ticks.forEach(t => {
            const py = Math.round(y.getPixelForValue(t.value)) + 0.5;
            const len = isDecade(t.value) ? 15 : 8;
            ctx.moveTo(a.left, py); ctx.lineTo(a.left + len, py);
            ctx.moveTo(a.right, py); ctx.lineTo(a.right - len, py);
        });
        ctx.stroke();
        ctx.lineWidth = 2;
        ctx.strokeRect(a.left, a.top, a.right - a.left, a.bottom - a.top);

        ctx.fillStyle = '#000';
        xExponents.forEach(e => {
            const px = x.getPixelForValue(Math.pow(10, e));
            drawPower(ctx, e, px - powerWidth(ctx, e) / 2, a.bottom + 48);
        });
        yExponents.forEach(e => {
            const py = y.getPixelForValue(Math.pow(10, e));
            drawPower(ctx, e, a.left - 100, py + 15);
        });
        ctx.restore();
    },
    afterDraw(chart) {
        const { ctx, chartArea: a } = chart;
        ctx.save();
        ctx.fillStyle = '#000';

        // title (sits partly above the canvas, as in the original figure)
        ctx.font = '42px ' + FONT;
        ctx.textAlign = 'center';
        ctx.textBaseline = 'alphabetic';
        ctx.fillText(chartTitle, (a.left + a.right) / 2, 7);

        // y axis label with superscript
        ctx.font = '42px ' + FONT;
        const w1 = ctx.measureText(yTitleMain).width;
        const w3 = ctx.measureText(yTitleEnd).width;
        ctx.font = '28px ' + FONT;
        const w2 = ctx.measureText(yTitleSup).width;
        ctx.translate(63, (a.top + a.bottom) / 2);
        ctx.rotate(-Math.PI / 2);
        ctx.textAlign = 'left';
        const s = -(w1 + w2 + w3) / 2;
        ctx.font = '42px ' + FONT;
        ctx.fillText(yTitleMain, s, 0);
        ctx.font = '28px ' + FONT;
        ctx.fillText(yTitleSup, s + w1, -19);
        ctx.font = '42px ' + FONT;
        ctx.fillText(yTitleEnd, s + w1 + w2, 0);
        ctx.setTransform(1, 0, 0, 1, 0, 0);

        // legend box
        const left = a.left + 13, top = a.bottom - 224, w = 712, h = 211;
        ctx.fillStyle = '#fff';
        ctx.fillRect(left, top, w, h);
        ctx.strokeStyle = '#000';
        ctx.lineWidth = 1.5;
        ctx.strokeRect(left, top, w, h);
        chart.data.datasets.forEach((ds, i) => {
            const cy = top + 30 + i * 50;
            ctx.strokeStyle = ds.borderColor;
            ctx.lineWidth = 5;
            ctx.beginPath();
            ctx.moveTo(left + 29, cy);
            ctx.lineTo(left + 162, cy);
            ctx.stroke();
            ctx.fillStyle = '#000';
            ctx.font = '42.5px ' + FONT;
            ctx.textAlign = 'left';
            ctx.fillText(ds.label, left + 177, cy + 15);
        });
        ctx.restore();
    }
};

const gridStyle = {
    color: '#1e1e1e',
    lineWidth: 1.5,
    drawTicks: false
};
const dotted = { display: false, dash: [1.5, 10.5] };

const chart = new Chart(document.getElementById('psdChart'), {
    type: 'line',
    data: {
        datasets: seriesData.map((rows, i) => ({
            label: seriesNames[i],
            data: rows.map(([f, v]) => ({ x: f, y: v })),
            borderColor: seriesColors[i],
            backgroundColor: seriesColors[i],
            borderWidth: 5.5,
            pointRadius: 0,
            fill: false,
            tension: 0,
            borderJoinStyle: 'round',
            borderCapStyle: 'round',
            order: 4 - i
        }))
    },
    options: {
        responsive: false,
        animation: false,
        devicePixelRatio: 1,
        events: [],
        layout: { padding: { left: 83, right: 45, top: 40, bottom: 0 } },
        plugins: {
            legend: { display: false },
            tooltip: { enabled: false }
        },
        scales: {
            x: {
                type: 'logarithmic',
                position: 'bottom',
                min: 0.01,
                max: 1000,
                afterBuildTicks: s => { s.ticks = logTicks(xExponents).map(v => ({ value: v })); },
                afterFit: s => { s.height = 115; },
                ticks: { display: false },
                grid: gridStyle,
                border: dotted,
                title: {
                    display: true,
                    text: xTitle,
                    color: '#000',
                    font: { family: FONT, size: 42, lineHeight: 1.1 },
                    padding: 0
                }
            },
            y: {
                type: 'logarithmic',
                position: 'left',
                min: 1e-11,
                max: 1e-3,
                afterBuildTicks: s => { s.ticks = logTicks(yExponents).map(v => ({ value: v })); },
                afterFit: s => { s.width = 100; },
                ticks: { display: false },
                grid: gridStyle,
                border: dotted
            }
        }
    },
    plugins: [matlabAxes]
});
</script>
</body>
</html>
